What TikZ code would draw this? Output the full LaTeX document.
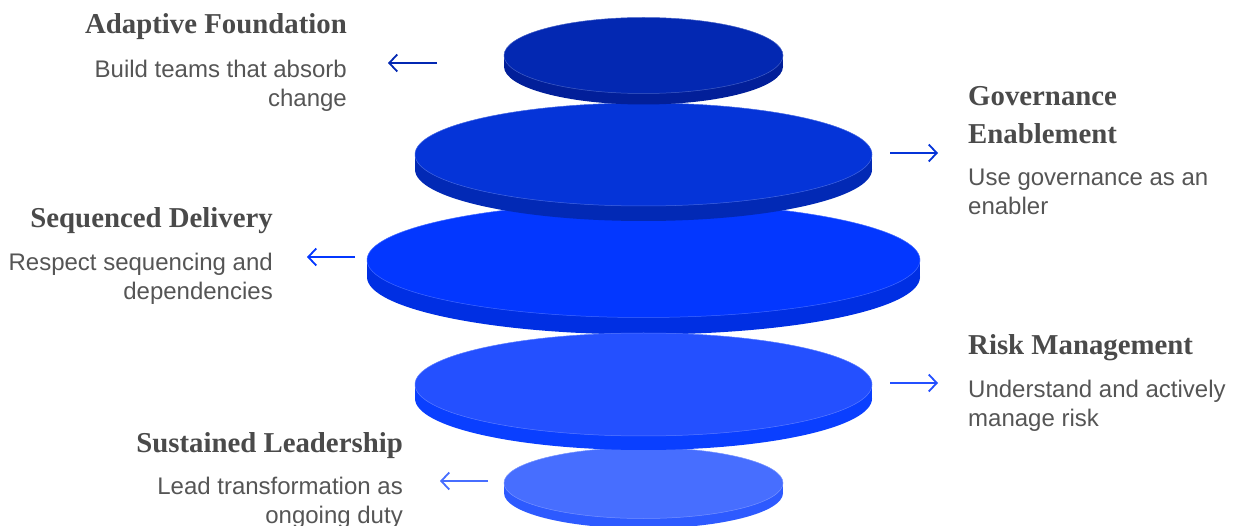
\documentclass[tikz,border=0pt]{standalone}
\usepackage{fontspec}
\setmainfont{Liberation Sans}
\newfontfamily\headfont{Liberation Serif}
\usetikzlibrary{arrows.meta,shapes.geometric}
\definecolor{faceA}{HTML}{0328B2}\definecolor{sideA}{HTML}{021F99}
\definecolor{faceB}{HTML}{0534D8}\definecolor{sideB}{HTML}{0229B5}
\definecolor{faceC}{HTML}{0337FF}\definecolor{sideC}{HTML}{002FE3}
\definecolor{faceD}{HTML}{2450FF}\definecolor{sideD}{HTML}{0A3FFF}
\definecolor{faceE}{HTML}{476EFF}\definecolor{sideE}{HTML}{2D5AFF}
\definecolor{headgray}{HTML}{4A4A4A}
\definecolor{bodygray}{HTML}{555555}
\newcommand\mydisc[7]{% name, cx, cy, rx, ry, thickness, colour suffix
  \fill[side#7] (#2-#4,#3) rectangle (#2+#4,#3+#6);
  \fill[side#7] (#2,#3+#6) ellipse [x radius=#4pt, y radius=#5pt];
  \node[discface, fill=face#7, draw=face#7!75!white, minimum width=2*#4pt, minimum height=2*#5pt] (#1) at (#2,#3) {};
}
\tikzset{
  discface/.style={ellipse, inner sep=0pt, line width=0.5pt},
  head/.style={font=\headfont\bfseries\fontsize{28.8}{38}\selectfont, text=headgray, inner sep=0pt},
  body/.style={font=\fontsize{24}{29.5}\selectfont, text=bodygray, inner sep=0pt},
  pointer/.style={line width=1.8pt, -{Straight Barb[length=8pt,width=17pt]}},
}
\begin{document}
\begin{tikzpicture}[x=1pt,y=-1pt]
\useasboundingbox (0,0) rectangle (1235,526);
% discs, lowest drawn first
\mydisc{d5}{643.5}{483}{139.5}{35.5}{10}{E}
\mydisc{d3}{643.5}{260}{276.5}{57.5}{17}{C}
\mydisc{d4}{643.5}{384.5}{228.5}{51.5}{14}{D}
\mydisc{d2}{643.5}{154.5}{228.5}{51.5}{15}{B}
\mydisc{d1}{643.5}{55.5}{139.5}{38}{11}{A}
% arrow end points
\coordinate (a1s) at (437,63);  \coordinate (a1e) at (388,63);
\coordinate (a2s) at (890,153); \coordinate (a2e) at (938,153);
\coordinate (a3s) at (355,257); \coordinate (a3e) at (307,257);
\coordinate (a4s) at (890,383); \coordinate (a4e) at (938,383);
\coordinate (a5s) at (488,481); \coordinate (a5e) at (440,481);
\draw[pointer, faceA] (a1s) -- (a1e);
\draw[pointer, faceB] (a2s) -- (a2e);
\draw[pointer, faceC] (a3s) -- (a3e);
\draw[pointer, faceD] (a4s) -- (a4e);
\draw[pointer, faceE] (a5s) -- (a5e);
% texts (multi-line nodes: base = last line)
\node[head, anchor=base east] (h1) at (347,34) {Adaptive Foundation};
\node[body, anchor=base east, align=right] (b1) at (347,107) {Build teams that absorb\\change};
\node[head, anchor=base west, align=left] (h2) at (968,144) {Governance\\Enablement};
\node[body, anchor=base west, align=left] (b2) at (968,215) {Use governance as an\\enabler};
\node[head, anchor=base east] (h3) at (273,228) {Sequenced Delivery};
\node[body, anchor=base east, align=right] (b3) at (273,300) {Respect sequencing and\\dependencies};
\node[head, anchor=base west] (h4) at (968,355) {Risk Management};
\node[body, anchor=base west, align=left] (b4) at (968,427) {Understand and actively\\manage risk};
\node[head, anchor=base east] (h5) at (403,453) {Sustained Leadership};
\node[body, anchor=base east, align=right] (b5) at (403,524) {Lead transformation as\\ongoing duty};
\end{tikzpicture}
\end{document}
